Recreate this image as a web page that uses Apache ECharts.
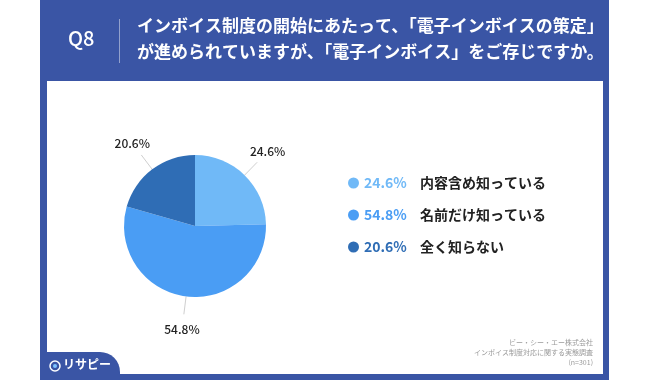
<!DOCTYPE html>
<html><head><meta charset="utf-8">
<script src="https://cdn.jsdelivr.net/npm/echarts@6/dist/echarts.min.js"></script>
<style>html,body{margin:0;padding:0;background:#fff}#c{width:650px;height:380px}</style>
</head><body><div id="c"></div>
<script>
const categories = ['内容含め知っている', '名前だけ知っている', '全く知らない'];
const values = [24.6, 54.8, 20.6];
const colors = ['#70B9F7', '#4A9DF4', '#2F6DB5'];
const titleLines = ['インボイス制度の開始にあたって、「電子インボイスの策定」', 'が進められていますが、「電子インボイス」をご存じですか。'];
const sourceLines = ['ビー・シー・エー株式会社', 'インボイス制度対応に関する実態調査', '(n=301)'];

const FONT = '"Noto Sans CJK JP", "Noto Sans", sans-serif';
const chart = echarts.init(document.getElementById('c'));
const frame = '#3A55A5';
const graphics = [
  { type: 'rect', z: -10, shape: { x: 40, y: 0, width: 569, height: 380 }, style: { fill: frame } },
  { type: 'rect', z: -9, shape: { x: 47, y: 81, width: 556, height: 293 }, style: { fill: '#fff' } },
  { type: 'rect', z: -8, shape: { x: 40, y: 352, width: 80, height: 40, r: [0, 20, 0, 0] }, style: { fill: frame } },
  { type: 'text', left: 68, top: 28, style: { text: 'Q8', fill: '#fff', font: '500 20px ' + FONT } },
  { type: 'rect', shape: { x: 119, y: 19, width: 1, height: 44 }, style: { fill: 'rgba(255,255,255,0.45)' } },
  { type: 'text', left: 137, top: 17, style: { text: titleLines[0], fill: '#fff', font: 'bold 17px ' + FONT } },
  { type: 'text', left: 137, top: 43, style: { text: titleLines[1], fill: '#fff', font: 'bold 17px ' + FONT } },
  { type: 'circle', shape: { cx: 55, cy: 366, r: 5 }, style: { fill: 'none', stroke: '#fff', lineWidth: 1.5 } },
  { type: 'circle', shape: { cx: 55, cy: 366, r: 2 }, style: { fill: '#7ec3ff' } },
  { type: 'text', left: 63, top: 358, style: { text: 'リサピー', fill: '#fff', font: 'bold 12px ' + FONT } }
];
sourceLines.forEach((t, i) => {
  graphics.push({ type: 'text', right: 57, top: 339 + i * 10, style: { text: t, fill: '#9a9a9a', font: '7px ' + FONT } });
});
chart.setOption({
  animation: false,
  textStyle: { fontFamily: FONT },
  graphic: graphics,
  color: colors,
  legend: {
    orient: 'vertical',
    left: 343,
    top: 171,
    icon: 'circle',
    itemWidth: 11,
    itemHeight: 11,
    itemGap: 18,
    selectedMode: false,
    data: categories,
    formatter: function (name) {
      const i = categories.indexOf(name);
      return '{p' + i + '|' + values[i].toFixed(1) + '%}{t|' + name + '}';
    },
    textStyle: {
      rich: {
        p0: { color: colors[0], fontSize: 14, fontWeight: 'bold', width: 56, fontFamily: FONT },
        p1: { color: colors[1], fontSize: 14, fontWeight: 'bold', width: 56, fontFamily: FONT },
        p2: { color: colors[2], fontSize: 14, fontWeight: 'bold', width: 56, fontFamily: FONT },
        t: { color: '#222', fontSize: 14, fontWeight: 'bold', fontFamily: FONT }
      }
    }
  },
  series: [{
    type: 'pie',
    center: [195, 226],
    radius: 71,
    startAngle: 90,
    clockwise: true,
    data: categories.map((c, i) => ({ name: c, value: values[i] })),
    label: {
      show: true,
      formatter: p => p.value.toFixed(1) + '%',
      color: '#222',
      fontSize: 12,
      fontFamily: FONT,
      fontWeight: 500
    },
    labelLine: { show: true, length: 18, length2: 0, lineStyle: { color: '#cfcfcf', width: 1 } },
    labelLayout: function (params) {
      const p = params.labelLinePoints;
      if (!p) return {};
      const dx = p[1][0] - p[0][0], dy = p[1][1] - p[0][1];
      const len = Math.sqrt(dx * dx + dy * dy) || 1;
      const off = 15;
      return {
        x: p[1][0] + dx / len * off,
        y: p[1][1] + dy / len * off,
        align: 'center',
        verticalAlign: 'middle',
        labelLinePoints: [p[0], p[1], p[1]]
      };
    },
    itemStyle: { borderWidth: 0 }
  }]
});
</script></body></html>
